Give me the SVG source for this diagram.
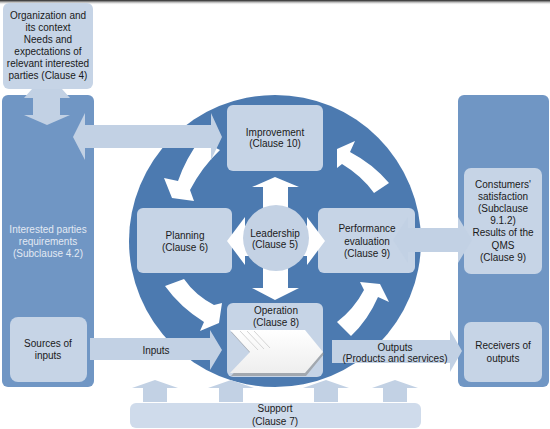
<svg xmlns="http://www.w3.org/2000/svg" width="550" height="429" viewBox="0 0 550 429">
<defs>
<style>
.t{font-family:"Liberation Sans",Arial,sans-serif;font-size:10px;fill:#1a1a1a;text-anchor:middle}
.tw{font-family:"Liberation Sans",Arial,sans-serif;font-size:10px;fill:#e2e9f3;text-anchor:middle}
.box{fill:#c6d4e6}
.panel{fill:#7096c4}
.la{fill:#c2d1e4}
.wa{fill:#ffffff}
</style>
<linearGradient id="chev" x1="0" y1="0" x2="0" y2="1">
<stop offset="0" stop-color="#ffffff"/>
<stop offset="1" stop-color="#eeeeee"/>
</linearGradient>
<linearGradient id="topshade" x1="0" y1="0" x2="0" y2="1">
<stop offset="0" stop-color="#222222"/>
<stop offset="0.3" stop-color="#888888"/>
<stop offset="1" stop-color="#ffffff" stop-opacity="0"/>
</linearGradient>
</defs>
<rect x="0" y="0" width="550" height="429" fill="#ffffff"/>
<rect x="0" y="0" width="550" height="5" fill="url(#topshade)"/>

<g id="background">
<rect id="left-panel" class="panel" x="2" y="95" width="92" height="292" rx="6"/>
<rect id="right-panel" class="panel" x="458" y="95" width="91" height="292" rx="6"/>
<circle id="pdca-circle" cx="275" cy="241" r="146" fill="#4c7ab0"/>
</g>

<g id="context">
<rect class="box" x="3" y="3" width="90" height="86" rx="6"/>
<text class="t" x="48" y="19">Organization and</text>
<text class="t" x="48" y="31">its context</text>
<text class="t" x="48" y="43">Needs and</text>
<text class="t" x="48" y="55">expectations of</text>
<text class="t" x="48" y="67">relevant interested</text>
<text class="t" x="48" y="79">parties (Clause 4)</text>
</g>

<g id="interested-parties">
<text class="tw" x="48" y="232.5">Interested parties</text>
<text class="tw" x="48" y="244.5">requirements</text>
<text class="tw" x="48" y="256.5">(Subclause 4.2)</text>
</g>

<g id="sources">
<rect class="box" x="10" y="317" width="77" height="65" rx="8"/>
<text class="t" x="48" y="346.5">Sources of</text>
<text class="t" x="48" y="358.5">inputs</text>
</g>

<g id="improvement">
<rect class="box" x="227" y="105" width="96" height="66" rx="6"/>
<text class="t" x="275" y="135.5">Improvement</text>
<text class="t" x="275" y="147">(Clause 10)</text>
</g>

<g id="planning">
<rect class="box" x="137" y="208" width="95" height="65" rx="6"/>
<text class="t" x="185" y="238.5">Planning</text>
<text class="t" x="185" y="250.5">(Clause 6)</text>
</g>

<g id="performance">
<rect class="box" x="318" y="208" width="97" height="65" rx="6"/>
<text class="t" x="367" y="231.5">Performance</text>
<text class="t" x="367" y="244.5">evaluation</text>
<text class="t" x="367" y="256.5">(Clause 9)</text>
</g>

<g id="operation">
<rect class="box" x="227" y="303" width="96" height="74" rx="6"/>
<polygon points="231,332 306,332 324,354 306,376 231,376 251,354" fill="#8a8a8a" opacity="0.6"/>
<polygon points="230,330 305,330 323,352 305,373 230,373 250,352" fill="url(#chev)"/>
<g stroke="#d4d4d4" stroke-width="1">
<line x1="240" y1="331" x2="258" y2="350"/>
<line x1="247" y1="331" x2="264" y2="349"/>
<line x1="254" y1="331" x2="270" y2="348"/>
</g>
<text class="t" x="276" y="313.5">Operation</text>
<text class="t" x="276" y="325.5">(Clause 8)</text>
</g>

<g id="leadership">
<polygon class="wa" points="275,177 299,187 288,187 288,288 299,288 275,300 252,288 263,288 263,187 252,187"/>
<polygon class="wa" points="227,241 245,217 245,226 307,226 307,217 325,241 307,265 307,256 245,256 245,265"/>
<circle cx="276" cy="238" r="33" fill="#c4d2e4"/>
<text class="t" x="275" y="236.5">Leadership</text>
<text class="t" x="275" y="247.5">(Clause 5)</text>
</g>

<g id="customers">
<rect class="box" x="464" y="168" width="78" height="106" rx="7"/>
<text class="t" x="503" y="187.5">Constumers'</text>
<text class="t" x="503" y="200">satisfaction</text>
<text class="t" x="503" y="211.5">(Subclause</text>
<text class="t" x="503" y="223.5">9.1.2)</text>
<text class="t" x="503" y="235.5">Results of the</text>
<text class="t" x="503" y="248.5">QMS</text>
<text class="t" x="503" y="260.5">(Clause 9)</text>
</g>

<g id="receivers">
<rect class="box" x="464" y="322" width="78" height="60" rx="7"/>
<text class="t" x="503" y="348.5">Receivers of</text>
<text class="t" x="503" y="361.5">outputs</text>
</g>

<g id="support">
<rect x="130" y="403" width="291" height="25" rx="6" fill="#cfdbeb"/>
<text class="t" x="275" y="411.5">Support</text>
<text class="t" x="275" y="425">(Clause 7)</text>
</g>

<g id="connectors">
<!-- support up arrows -->
<polygon class="la" points="155,380 178,388 167,388 167,402 143,402 143,388 132,388"/>
<polygon class="la" points="231,380 254,388 243,388 243,402 219,402 219,388 208,388"/>
<polygon class="la" points="326,380 349,388 338,388 338,402 314,402 314,388 303,388"/>
<polygon class="la" points="395,380 418,388 407,388 407,402 383,402 383,388 372,388"/>
<!-- curved white cycle arrows -->
<path class="wa" d="M200,140 Q186,158 178,181 L164,178 L172,198 L194,201 L190,190 Q202,167 220,150 Z"/>
<path class="wa" d="M165,286 Q180,307 204,322 L200,331 L219,323 L222,303 L214,305 Q195,295 184,279 Z"/>
<path class="wa" d="M337,322 Q354,309 364,290 L360,282 L380,284 L389,302 L378,297 Q368,320 351,336 Z"/>
<path class="wa" d="M389,183 Q373,164 350,152 L355,141 L337,149 L337,168 L342,164 Q362,176 374,193 Z"/>
<!-- context vertical double arrow -->
<polygon class="la" points="32,89 62,89 70,98 60,98 60,115 70,115 47,125 24,115 33,115 33,98 24,98"/>
<!-- left panel to improvement -->
<polygon class="la" points="73,137 85,113 85,125 211,125 211,113 222,137 211,160 211,148 85,148 85,160"/>
<!-- performance to customers -->
<polygon class="la" points="393,240 408,217 408,228 458,228 458,217 472,240 458,263 458,252 408,252 408,263"/>
<!-- inputs -->
<polygon id="inputs-arrow" class="la" points="90,338 210,338 210,330 222,350 210,370 210,360 90,360"/>
<!-- outputs -->
<polygon id="outputs-arrow" class="la" points="332,340 450,340 450,330 462,351 450,372 450,363 332,363"/>
</g>

<g id="labels">
<text class="t" x="156" y="353.5">Inputs</text>
<text class="t" x="395" y="350.5">Outputs</text>
<text class="t" x="395" y="361.5">(Products and services)</text>
</g>
</svg>
